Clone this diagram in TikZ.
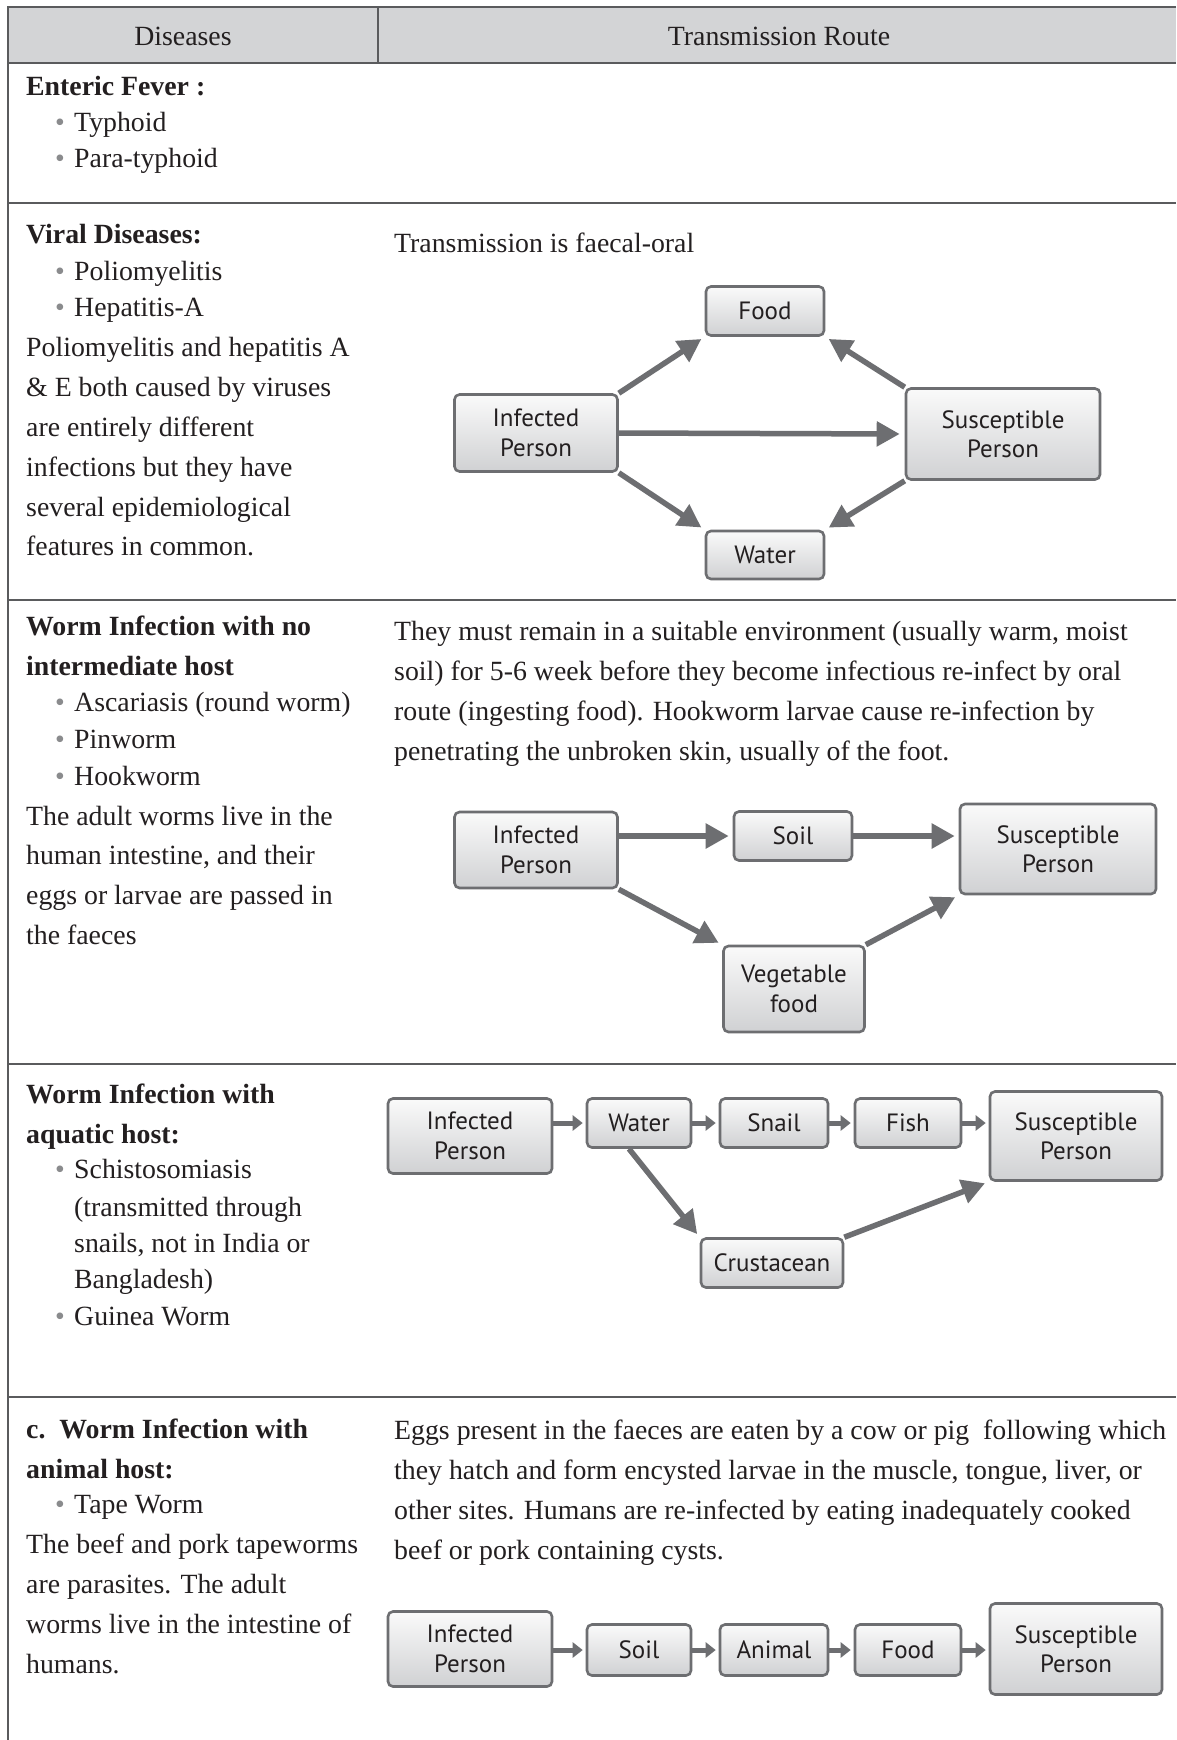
\documentclass[tikz,border=0pt]{standalone}
\usepackage{fontspec}
\setmainfont{Liberation Serif}
\newfontfamily\boxfont{PT Sans}
\usetikzlibrary{arrows.meta}
\definecolor{ink}{HTML}{231F20}
\definecolor{rulecol}{HTML}{5A5B5D}
\definecolor{headfill}{HTML}{D3D4D6}
\definecolor{edgecol}{HTML}{6D6E71}
\definecolor{boxtop}{HTML}{FAFAFA}
\definecolor{boxbot}{HTML}{D0D1D3}
\definecolor{dotcol}{HTML}{8A8B8D}

\begin{document}
\begin{tikzpicture}[x=1pt,y=-1pt,
  txt/.style={anchor=base west, inner sep=0pt, text=ink, font=\fontsize{27.8}{33}\selectfont},
  hd/.style={anchor=base west, inner sep=0pt, text=ink, font=\fontsize{27.8}{33}\selectfont\bfseries},
  bul/.style={anchor=base west, inner sep=0pt, text=dotcol, font=\fontsize{27.8}{33}\selectfont},
  rulel/.style={draw=rulecol, line width=1.6pt},
  flow/.style={draw=edgecol, line width=2.6pt, rounded corners=5pt,
    top color=boxtop, bottom color=boxbot, text=ink, align=center, inner sep=0pt,
    font=\boxfont\fontsize{25}{29.5}\selectfont},
  big/.style={draw=edgecol, line width=5.5pt, -{Triangle[length=23pt,width=24pt]}, shorten >=4pt},
  small/.style={draw=edgecol, line width=5pt, -{Triangle[length=10pt,width=15pt]}, shorten >=3pt},
]
\useasboundingbox (0,0) rectangle (1176,1740);
\fill[white] (0,0) rectangle (1176,1740);

% table frame
\fill[headfill] (8,7) rectangle (1176,63);
\draw[rulel] (1176,7) -- (8,7) -- (8,1740);
\draw[rulel] (8,63) -- (1176,63);
\draw[rulel] (378,7) -- (378,63);
\draw[rulel] (8,203) -- (1176,203);
\draw[rulel] (8,600) -- (1176,600);
\draw[rulel] (8,1064) -- (1176,1064);
\draw[rulel] (8,1397) -- (1176,1397);

% header
\node[anchor=base, inner sep=0pt, text=ink, font=\fontsize{27.8}{33}\selectfont] (hdis) at (183,45) {Diseases};
\node[anchor=base, inner sep=0pt, text=ink, font=\fontsize{27.8}{33}\selectfont] (hroute) at (779,45) {Transmission Route};

% row 1: enteric fever
\node[hd] (r1a) at (26,95) {Enteric Fever :};
\node[bul] (r1b1) at (55,131) {\textbullet};
\node[txt] (r1b) at (74,131) {Typhoid};
\node[bul] (r1c1) at (55,167) {\textbullet};
\node[txt] (r1c) at (74,167) {Para-typhoid};

% row 2: viral diseases
\node[hd] (r2a) at (26,243) {Viral Diseases:};
\node[bul] (r2b1) at (55,280) {\textbullet};
\node[txt] (r2b) at (74,280) {Poliomyelitis};
\node[bul] (r2c1) at (55,316) {\textbullet};
\node[txt] (r2c) at (74,316) {Hepatitis-A};
\node[txt] (r2d) at (26,356) {Poliomyelitis and hepatitis A};
\node[txt] (r2e) at (26,396) {\& E both caused by viruses};
\node[txt] (r2f) at (26,436) {are entirely different};
\node[txt] (r2g) at (26,476) {infections but they have};
\node[txt] (r2h) at (26,516) {several epidemiological};
\node[txt] (r2i) at (26,555) {features in common.};
\node[txt] (r2t) at (394,252) {Transmission is faecal-oral};

% faecal-oral diagram
\node[flow, minimum width=163pt, minimum height=77pt] (ip1) at (536,433) {Infected\\Person};
\node[flow, minimum width=118pt, minimum height=49pt] (food1) at (765,311) {Food};
\node[flow, minimum width=194pt, minimum height=91pt] (sp1) at (1003,434) {Susceptible\\Person};
\node[flow, minimum width=118pt, minimum height=48pt] (water1) at (765,555) {Water};
\draw[big] (ip1.north east) -- (food1.south west);
\draw[big] (sp1.north west) -- (food1.south east);
\draw[big] (ip1.south east) -- (water1.north west);
\draw[big] (sp1.south west) -- (water1.north east);
\draw[big, shorten >=5pt] (ip1.east) -- (sp1.west);

% row 3: worms, no intermediate host
\node[hd] (r3a) at (26,635) {Worm Infection with no};
\node[hd] (r3b) at (26,675) {intermediate host};
\node[bul] (r3c1) at (55,711) {\textbullet};
\node[txt] (r3c) at (74,711) {Ascariasis (round worm)};
\node[bul] (r3d1) at (55,748) {\textbullet};
\node[txt] (r3d) at (74,748) {Pinworm};
\node[bul] (r3e1) at (55,785) {\textbullet};
\node[txt] (r3e) at (74,785) {Hookworm};
\node[txt] (r3f) at (26,825) {The adult worms live in the};
\node[txt] (r3g) at (26,864) {human intestine, and their};
\node[txt] (r3h) at (26,904) {eggs or larvae are passed in};
\node[txt] (r3i) at (26,944) {the faeces};
\node[txt] (r3p1) at (394,640) {They must remain in a suitable environment (usually warm, moist};
\node[txt] (r3p2) at (394,680) {soil) for 5-6 week before they become infectious re-infect by oral};
\node[txt] (r3p3) at (394,720) {route (ingesting food). Hookworm larvae cause re-infection by};
\node[txt] (r3p4) at (394,760) {penetrating the unbroken skin, usually of the foot.};

\node[flow, minimum width=163pt, minimum height=76pt] (ip2) at (536,850) {Infected\\Person};
\node[flow, minimum width=118pt, minimum height=49pt] (soil2) at (793,836) {Soil};
\node[flow, minimum width=196pt, minimum height=90pt] (sp2) at (1058,849) {Susceptible\\Person};
\node[flow, minimum width=141pt, minimum height=86pt] (veg2) at (794,989) {Vegetable\\food};
\draw[big] (ip2.east |- soil2.west) -- (soil2.west);
\draw[big] (soil2.east) -- (soil2.east -| sp2.west);
\draw[big] (ip2.south east) -- (veg2.north west);
\draw[big] (veg2.north east) -- (sp2.south west);

% row 4: aquatic host
\node[hd] (r4a) at (26,1103) {Worm Infection with};
\node[hd] (r4b) at (26,1143) {aquatic host:};
\node[bul] (r4c1) at (55,1178) {\textbullet};
\node[txt] (r4c) at (74,1178) {Schistosomiasis};
\node[txt] (r4d) at (74,1216) {(transmitted through};
\node[txt] (r4e) at (74,1252) {snails, not in India or};
\node[txt] (r4f) at (74,1288) {Bangladesh)};
\node[bul] (r4g1) at (55,1325) {\textbullet};
\node[txt] (r4g) at (74,1325) {Guinea Worm};

\node[flow, minimum width=164pt, minimum height=75pt] (ip3) at (470,1136) {Infected\\Person};
\node[flow, minimum width=104pt, minimum height=49pt] (water3) at (639,1123) {Water};
\node[flow, minimum width=108pt, minimum height=49pt] (snail3) at (774,1123) {Snail};
\node[flow, minimum width=106pt, minimum height=49pt] (fish3) at (908,1123) {Fish};
\node[flow, minimum width=172pt, minimum height=89pt] (sp3) at (1076,1136) {Susceptible\\Person};
\node[flow, minimum width=142pt, minimum height=49pt] (crus3) at (772,1263) {Crustacean};
\draw[small] (ip3.east |- water3.west) -- (water3.west);
\draw[small] (water3.east) -- (snail3.west);
\draw[small] (snail3.east) -- (fish3.west);
\draw[small] (fish3.east) -- (fish3.east -| sp3.west);
\draw[big] ([xshift=-10pt]water3.south) -- (crus3.north west);
\draw[big] (crus3.north east) -- (sp3.south west);

% row 5: animal host
\node[hd] (r5a) at (26,1438) {c.\ \ Worm Infection with};
\node[hd] (r5b) at (26,1478) {animal host:};
\node[bul] (r5c1) at (55,1513) {\textbullet};
\node[txt] (r5c) at (74,1513) {Tape Worm};
\node[txt] (r5d) at (26,1553) {The beef and pork tapeworms};
\node[txt] (r5e) at (26,1593) {are parasites. The adult};
\node[txt] (r5f) at (26,1633) {worms live in the intestine of};
\node[txt] (r5g) at (26,1673) {humans.};
\node[txt] (r5p1) at (394,1439) {Eggs present in the faeces are eaten by a cow or pig\ \ following which};
\node[txt] (r5p2) at (394,1479) {they hatch and form encysted larvae in the muscle, tongue, liver, or};
\node[txt] (r5p3) at (394,1519) {other sites. Humans are re-infected by eating inadequately cooked};
\node[txt] (r5p4) at (394,1559) {beef or pork containing cysts.};

\node[flow, minimum width=164pt, minimum height=75pt] (ip4) at (470,1649) {Infected\\Person};
\node[flow, minimum width=104pt, minimum height=51pt] (soil4) at (639,1650) {Soil};
\node[flow, minimum width=108pt, minimum height=51pt] (animal4) at (774,1650) {Animal};
\node[flow, minimum width=106pt, minimum height=51pt] (food4) at (908,1650) {Food};
\node[flow, minimum width=172pt, minimum height=91pt] (sp4) at (1076,1649) {Susceptible\\Person};
\draw[small] (ip4.east |- soil4.west) -- (soil4.west);
\draw[small] (soil4.east) -- (animal4.west);
\draw[small] (animal4.east) -- (food4.west);
\draw[small] (food4.east) -- (food4.east -| sp4.west);
\end{tikzpicture}
\end{document}
